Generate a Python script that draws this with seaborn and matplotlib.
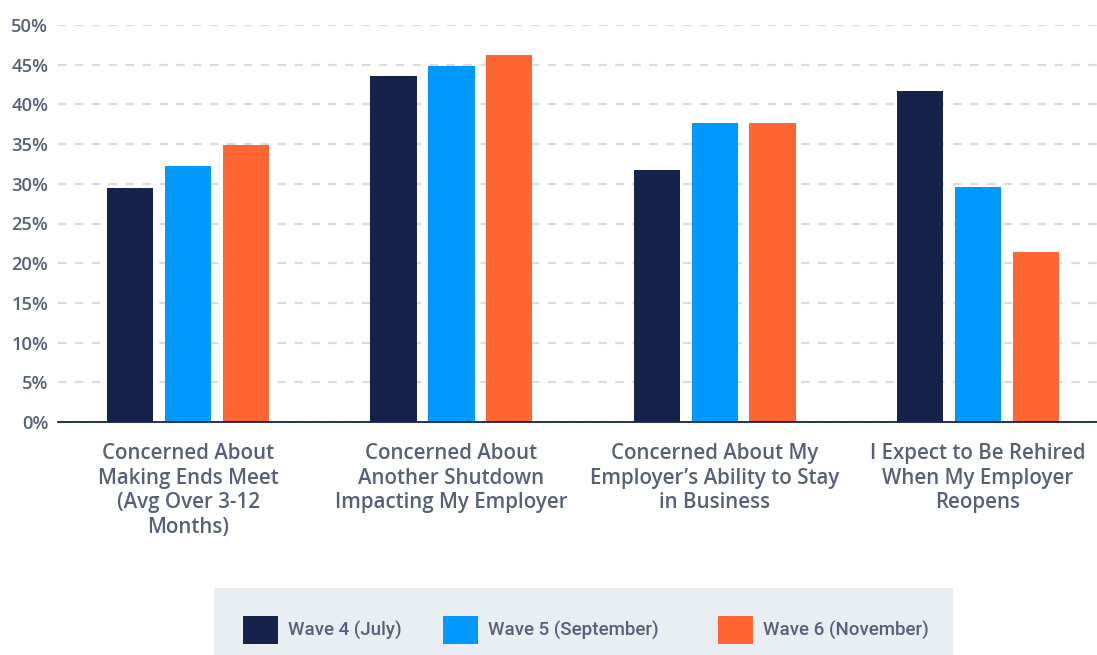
import matplotlib
matplotlib.use("Agg")
import matplotlib.pyplot as plt
from matplotlib.patches import Patch, Rectangle
import seaborn as sns
import pandas as pd

categories = [
    "Concerned About\nMaking Ends Meet\n(Avg Over 3-12\nMonths)",
    "Concerned About\nAnother Shutdown\nImpacting My Employer",
    "Concerned About My\nEmployer\u2019s Ability to Stay\nin Business",
    "I Expect to Be Rehired\nWhen My Employer\nReopens",
]
waves = ["Wave 4 (July)", "Wave 5 (September)", "Wave 6 (November)"]
wave4 = [29.5, 43.6, 31.7, 41.7]
wave5 = [32.3, 44.8, 37.7, 29.6]
wave6 = [34.9, 46.2, 37.7, 21.4]
yticks = [0, 5, 10, 15, 20, 25, 30, 35, 40, 45, 50]
colors = ["#15224a", "#0099ff", "#ff6633"]

rows = []
for w, vals in zip(waves, [wave4, wave5, wave6]):
    for c, v in zip(categories, vals):
        rows.append({"category": c, "wave": w, "value": v})
df = pd.DataFrame(rows)

sns.set_style("white")
plt.rcParams["font.family"] = ["Open Sans", "DejaVu Sans"]

W, H = 1097, 655
fig = plt.figure(figsize=(W / 100, H / 100), dpi=100)
ax = fig.add_axes([58 / W, (H - 422) / H, (W - 58) / W, (422 - 25) / H])

sns.barplot(data=df, x="category", y="value", hue="wave", order=categories,
            hue_order=waves, palette=colors, saturation=1, width=0.66, gap=0.2,
            linewidth=0, legend=False, ax=ax)

ax.set_xlim(-0.494, 3.452)
ax.set_ylim(0, 50)
ax.set_yticks(yticks)
ax.set_yticklabels([f"{v}%" for v in yticks])
ax.set_axisbelow(True)
ax.yaxis.grid(True, color="#dcdcdc", linewidth=1.6, linestyle=(0, (3.8, 3.8)))
ax.xaxis.grid(False)
for s in ["top", "right", "left"]:
    ax.spines[s].set_visible(False)
ax.spines["bottom"].set_color("#15224a")
ax.spines["bottom"].set_linewidth(1.3)
ax.set_xlabel("")
ax.set_ylabel("")

text_color = "#566179"
ax.tick_params(axis="y", length=0, pad=7, labelsize=13.2, labelcolor=text_color)
ax.tick_params(axis="x", length=0, pad=15, labelsize=14.8, labelcolor=text_color)
for lab in ax.get_yticklabels():
    lab.set_fontweight("semibold")
for lab in ax.get_xticklabels():
    lab.set_fontweight("semibold")
    lab.set_linespacing(1.23)

# legend background
fig.patches.append(Rectangle((214 / W, 0), 739 / W, 67 / H, transform=fig.transFigure,
                             facecolor="#e9eef3", edgecolor="none", zorder=0))
legend_x = [243, 443, 718]
for w, col, x in zip(waves, colors, legend_x):
    fig.legend(handles=[Patch(facecolor=col, edgecolor="none", label=w)],
               loc="center left", bbox_to_anchor=(x / W, 25 / H),
               frameon=False, handlelength=1.85, handleheight=1.85,
               handletextpad=0.55, borderpad=0, borderaxespad=0,
               labelcolor=text_color,
               prop={"family": ["Roboto", "DejaVu Sans"], "size": 13.5, "weight": "medium"})

fig.savefig("out.png", dpi=100)
